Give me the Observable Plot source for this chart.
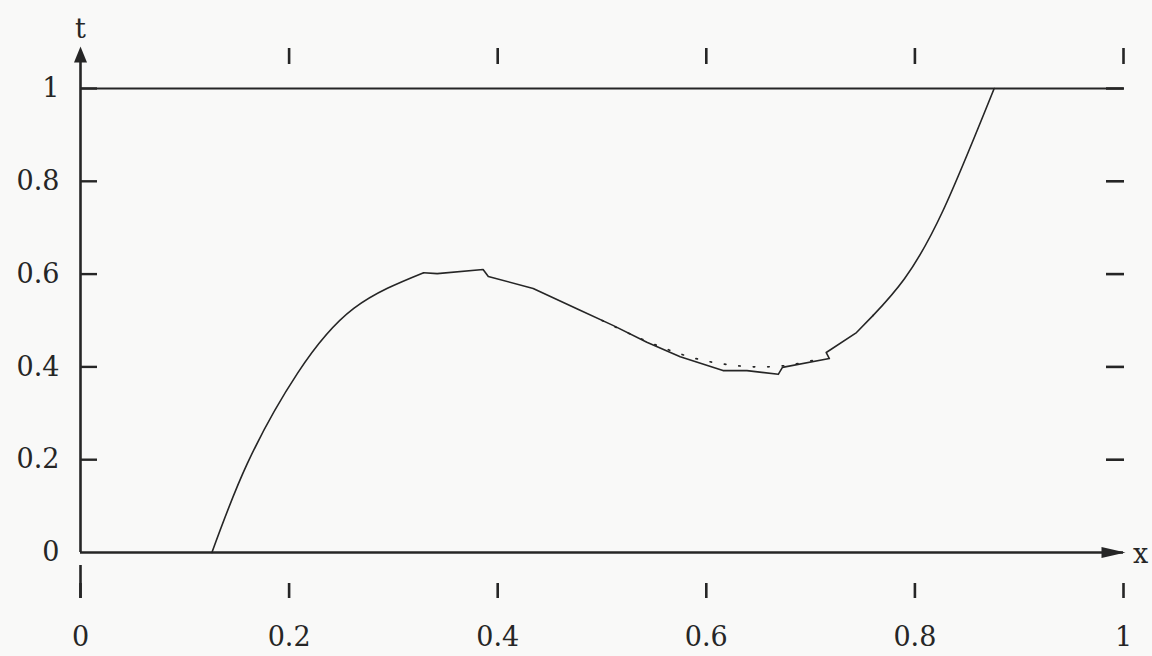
<!DOCTYPE html>
<html>
<head>
<meta charset="utf-8">
<script src="https://cdn.jsdelivr.net/npm/d3@7"></script>
<script src="https://cdn.jsdelivr.net/npm/@observablehq/plot@0.6"></script>
<style>
  html, body { margin: 0; padding: 0; background: #f9f9f8; }
  #chart svg { display: block; }
</style>
</head>
<body>
<div id="chart"></div>
<script>
// ---- data ----
// piece: "a"/"c" = smooth stretches of the curve, "k" = stretch drawn with small kinks
const curveX = [0.126, 0.160, 0.208, 0.262, 0.329,
                0.329, 0.342, 0.386, 0.391, 0.434, 0.479, 0.511, 0.543, 0.575, 0.616, 0.639, 0.669, 0.673, 0.718, 0.715, 0.744, 0.760,
                0.760, 0.790, 0.827, 0.876];
const curveT = [0.000, 0.192, 0.386, 0.526, 0.603,
                0.603, 0.601, 0.610, 0.595, 0.569, 0.522, 0.489, 0.453, 0.422, 0.392, 0.392, 0.384, 0.399, 0.418, 0.431, 0.474, 0.511,
                0.511, 0.590, 0.737, 1.000];
const curvePiece = ["a", "a", "a", "a", "a",
                    "k", "k", "k", "k", "k", "k", "k", "k", "k", "k", "k", "k", "k", "k", "k", "k", "k",
                    "c", "c", "c", "c"];
const dotX = [0.50, 0.53, 0.56, 0.59, 0.62, 0.65, 0.68, 0.71];
const dotT = [0.500, 0.468, 0.440, 0.418, 0.405, 0.400, 0.404, 0.418];
const xTicks = [0, 0.2, 0.4, 0.6, 0.8, 1];
const yTicks = [0, 0.2, 0.4, 0.6, 0.8, 1];
const topTicks = [0.2, 0.4, 0.6, 0.8, 1];
const sideTicks = [0.2, 0.4, 0.6, 0.8, 1];
const xName = "x";
const yName = "t";
const topLine = [1];

// ---- build tables ----
const curve = curveX.map((x, i) => ({x, t: curveT[i], piece: curvePiece[i]}));
const smoothPart = curve.filter(d => d.piece !== "k");
const kinkPart = curve.filter(d => d.piece === "k");
const dotted = dotX.map((x, i) => ({x, t: dotT[i]}));
const fmt = d => String(d);

const ink = "#262626";
const font = "DejaVu Serif";
const fs = 27;

const arrowUp = {draw(ctx) { ctx.moveTo(0, 0); ctx.lineTo(6.5, 16); ctx.lineTo(-6.5, 16); ctx.closePath(); }};
const arrowRight = {draw(ctx) { ctx.moveTo(0, 0); ctx.lineTo(-24, -5.5); ctx.lineTo(-24, 5.5); ctx.closePath(); }};

const chart = Plot.plot({
  width: 1152,
  height: 656,
  marginLeft: 80,
  marginRight: 29,
  marginTop: 88,
  marginBottom: 104,
  x: {domain: [0, 1], axis: null},
  y: {domain: [0, 1], axis: null},
  style: {background: "#f9f9f8", fontFamily: font, fontSize: fs + "px", color: ink, overflow: "visible"},
  marks: [
    // axes lines
    Plot.ruleY([0], {stroke: ink, strokeWidth: 2.6}),
    Plot.ruleX([0], {stroke: ink, strokeWidth: 2.6, insetTop: -30}),
    Plot.ruleY(topLine, {stroke: ink, strokeWidth: 1.9}),
    // arrow heads
    Plot.dot([1], {x: d => d, frameAnchor: "bottom", dx: 2, symbol: arrowRight, fill: ink, stroke: null}),
    Plot.dot([0], {x: d => d, frameAnchor: "top", dy: -42, symbol: arrowUp, fill: ink, stroke: null}),
    // tick marks
    Plot.axisX(xTicks, {anchor: "bottom", tickSize: 15, dy: 31, tickFormat: () => "", label: null, stroke: ink, strokeWidth: 2.6}),
    Plot.axisX([0], {anchor: "bottom", tickSize: 33, dy: 13, tickFormat: () => "", label: null, stroke: ink, strokeWidth: 2.6}),
    Plot.axisX(topTicks, {anchor: "top", tickSize: 16, dy: -25, tickFormat: () => "", label: null, stroke: ink, strokeWidth: 2.6}),
    Plot.axisY(sideTicks, {anchor: "left", tickSize: 17, dx: 17, tickFormat: () => "", label: null, stroke: ink, strokeWidth: 2.4}),
    Plot.axisY(sideTicks, {anchor: "right", tickSize: 18, dx: -18, tickFormat: () => "", label: null, stroke: ink, strokeWidth: 2.6}),
    // tick labels
    Plot.text(xTicks, {x: d => d, text: fmt, frameAnchor: "bottom", dy: 85, fontSize: fs, fontFamily: font, fill: ink, lineAnchor: "middle", textAnchor: "middle"}),
    Plot.text(yTicks, {y: d => d, text: fmt, frameAnchor: "left", dx: -21, fontSize: fs, fontFamily: font, fill: ink, textAnchor: "end", lineAnchor: "middle"}),
    // axis names
    Plot.text([yName], {text: d => d, frameAnchor: "top-left", dy: -59, textAnchor: "middle", lineAnchor: "middle", fontSize: fs, fontFamily: font, fill: ink}),
    Plot.text([xName], {text: d => d, frameAnchor: "bottom-right", dx: 17, dy: 2, textAnchor: "middle", lineAnchor: "middle", fontSize: fs, fontFamily: font, fill: ink}),
    // data
    Plot.line(dotted, {x: "x", y: "t", stroke: ink, strokeWidth: 1.7, strokeDasharray: "1.5,13", strokeLinecap: "round", curve: "catmull-rom"}),
    Plot.line(smoothPart, {x: "x", y: "t", z: "piece", stroke: ink, strokeWidth: 1.6, curve: "natural"}),
    Plot.line(kinkPart, {x: "x", y: "t", stroke: ink, strokeWidth: 1.6, curve: "linear", strokeLinejoin: "round"})
  ]
});
document.getElementById("chart").append(chart);
</script>
</body>
</html>
